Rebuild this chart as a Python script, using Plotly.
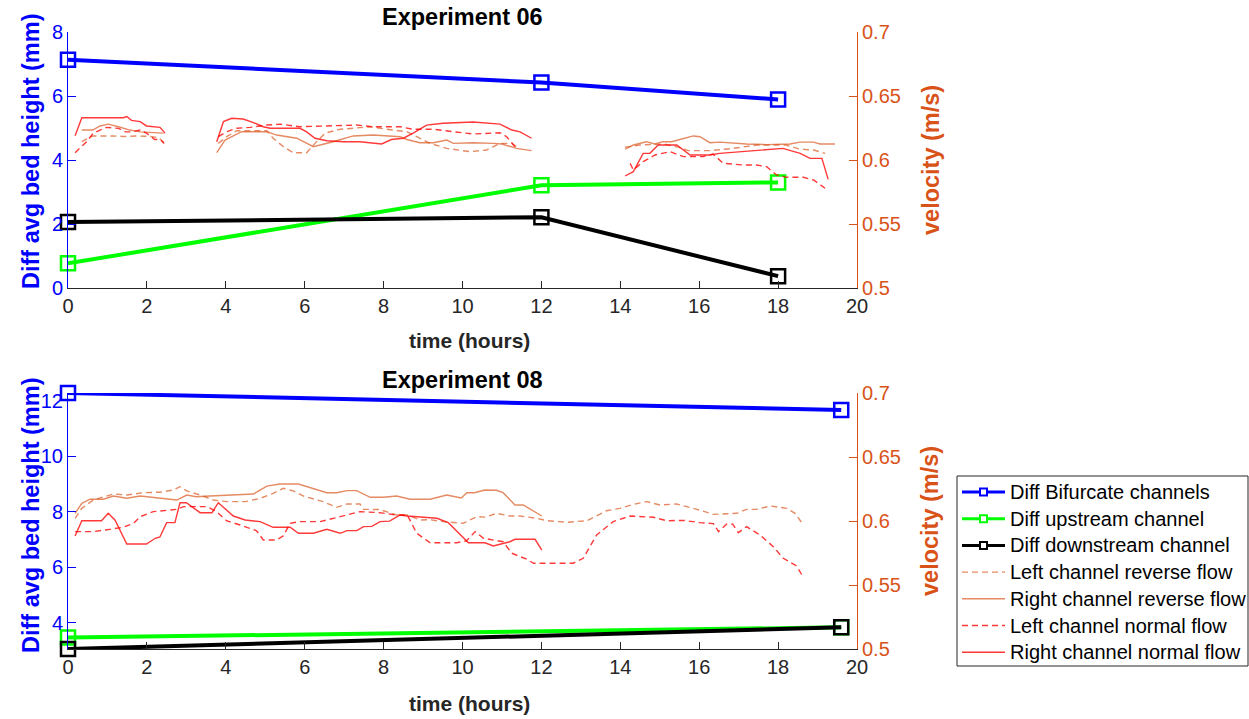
import plotly.graph_objects as go

# ---------------- Experiment 06 ----------------
e06_time = [0, 12, 18]
e06_bifurcate = [7.13, 6.42, 5.89]
e06_upstream = [0.77, 3.21, 3.30]
e06_downstream = [2.06, 2.21, 0.37]

e06_rn_h = [0.18, 0.35, 1.4, 1.49, 1.61, 1.83, 1.99, 2.33, 2.46, None,
            3.77, 3.94, 4.15, 4.44, 4.70, 4.95, 5.12, 5.88, 6.05, 6.26, 6.56, 6.98, 7.4, 7.74, 7.95, 8.2, 8.5, 8.75,
            9.09, 9.51, 10.27, 10.95, 11.25, 11.46, 11.75, None,
            14.12, 14.33, 14.58, 14.75, 14.96, 15.43, 15.77, 16.27, 16.52, 17.04, 17.88, 18.12, 18.56, 18.81, 19.11, 19.27]
e06_rn_v = [0.619, 0.633, 0.633, 0.634, 0.631, 0.630, 0.6266, 0.6255, 0.621, None,
            0.6143, 0.630, 0.6326, 0.632, 0.6292, 0.626, 0.6248, 0.6248, 0.622, 0.617, 0.615, 0.6143, 0.6143, 0.6135,
            0.6125, 0.616, 0.617, 0.621, 0.6273, 0.6287, 0.6297, 0.628, 0.6234, 0.622, 0.617, None,
            0.5875, 0.5909, 0.6052, 0.6052, 0.6117, 0.6117, 0.6039, 0.6039, 0.6052, 0.6065, 0.6084, 0.6091, 0.6052,
            0.6013, 0.6013, 0.5849]

e06_rr_h = [0.35, 0.63, 0.81, 1.02, 1.28, 1.57, 1.83, 2.42, None,
            3.77, 3.98, 4.19, 4.40, 5.04, 5.29, 5.80, 6.22, 6.72, 7.23, 7.74, 8.42, 8.59, 8.92, 9.26, 9.6, 9.77,
            10.27, 10.78, 11.0, 11.37, 11.75, None,
            14.12, 14.33, 14.66, 14.87, 15.08, 15.3, 15.51, 15.85, 16.02, 16.27, 16.52, 16.87, 17.2, 17.71, 18.3,
            18.56, 18.9, 19.06, 19.44]
e06_rr_v = [0.6234, 0.6234, 0.6266, 0.628, 0.626, 0.6234, 0.622, 0.621, None,
            0.6057, 0.6156, 0.6188, 0.6221, 0.6221, 0.6195, 0.617, 0.6104, 0.6143, 0.6188, 0.6195, 0.6182, 0.616,
            0.6135, 0.6135, 0.6156, 0.613, 0.6135, 0.613, 0.6125, 0.6091, 0.6073, None,
            0.6084, 0.6117, 0.6143, 0.6125, 0.6143, 0.6143, 0.616, 0.6188, 0.6182, 0.6135, 0.614, 0.6131, 0.6125,
            0.612, 0.6125, 0.614, 0.614, 0.6125, 0.6125]

e06_ln_h = [0.18, 0.47, 0.64, 0.98, 1.28, 1.45, 1.62, 1.83, 1.99, 2.2, 2.33, 2.44, None,
            3.81, 4.02, 4.28, 4.62, 5.04, 5.38, 5.88, 6.72, 7.32, 7.74, 8.42, 8.75, 9.26, 9.77, 10.27, 10.95, 11.12,
            11.33, None,
            14.25, 14.33, 14.58, 14.88, 15.26, 15.6, 16.1, 16.35, 16.61, 17.12, 17.45, 17.71, 17.96, 18.2, 18.64,
            18.9, 19.19]
e06_ln_v = [0.6057, 0.6143, 0.621, 0.6255, 0.6247, 0.622, 0.622, 0.6234, 0.621, 0.616, 0.616, 0.613, None,
            0.6182, 0.6221, 0.6248, 0.6255, 0.6273, 0.628, 0.626, 0.6265, 0.6273, 0.626, 0.626, 0.624, 0.624,
            0.6221, 0.6203, 0.6213, 0.6182, 0.6104, None,
            0.5974, 0.5922, 0.5987, 0.6039, 0.6065, 0.6026, 0.6026, 0.6047, 0.5974, 0.5961, 0.5961, 0.5948, 0.5883,
            0.5865, 0.5865, 0.5844, 0.5779]

e06_lr_h = [0.35, 0.63, 1.14, 1.40, 1.74, 2.08, 2.3, 2.42, None,
            3.81, 4.02, 4.28, 5.04, 5.2, 5.46, 5.71, 6.05, 6.26, 6.52, 6.90, 7.66, 8.08, 8.59, 8.84, 9.18, 9.60,
            10.19, 10.61, 10.95, 11.25, 11.37, None,
            14.12, 14.5, 15.1, 15.43, 15.72, 16.27, 16.87, 17.46, 18.2, 18.56, 18.9, 19.19]
e06_lr_v = [0.6143, 0.6188, 0.6188, 0.6184, 0.6188, 0.6184, 0.6174, 0.614, None,
            0.613, 0.6182, 0.6229, 0.6229, 0.617, 0.6104, 0.6057, 0.6057, 0.613, 0.621, 0.624, 0.626, 0.624, 0.6221,
            0.6182, 0.613, 0.6091, 0.6065, 0.6078, 0.613, 0.613, 0.6104, None,
            0.61, 0.6117, 0.6125, 0.6104, 0.6073, 0.6073, 0.6091, 0.6117, 0.6117, 0.6084, 0.6078, 0.6052]

# ---------------- Experiment 08 ----------------
e08_time = [0, 19.6]
e08_bifurcate = [12.28, 11.67]
e08_upstream = [3.47, 3.84]
e08_downstream = [3.06, 3.84]

e08_rr_h = [0.18, 0.35, 0.56, 0.9, 1.15, 1.49, 1.83, 2.33, 2.76, 3.01, 3.25, 3.6, 4.7, 5.04, 5.37, 5.84, 6.05,
            6.56, 6.81, 7.07, 7.32, 7.66, 8.0, 8.33, 8.67, 9.18, 9.6, 9.97, 10.11, 10.3, 10.57, 10.86, 11.03, 11.33,
            11.54, 12.01]
e08_rr_v = [0.606, 0.6138, 0.617, 0.617, 0.6195, 0.6178, 0.6195, 0.6178, 0.6164, 0.6203, 0.619, 0.6195, 0.6211,
            0.6273, 0.6289, 0.6289, 0.627, 0.6221, 0.6221, 0.6237, 0.6237, 0.6185, 0.6185, 0.6195, 0.617, 0.617,
            0.6203, 0.618, 0.6221, 0.6221, 0.6242, 0.624, 0.6221, 0.6125, 0.6125, 0.6039]

e08_rn_h = [0.18, 0.35, 0.85, 1.02, 1.19, 1.49, 1.99, 2.21, 2.33, 2.5, 2.71, 2.84, 3.0, 3.35, 3.65, 3.81, 4.19,
            4.49, 4.87, 5.2, 5.63, 5.84, 6.22, 6.56, 6.9, 7.07, 7.32, 7.49, 7.7, 7.91, 8.15, 8.42, 8.6, 9.35, 9.64,
            10.15, 10.57, 10.78, 11.2, 11.33, 11.84, 12.01]
e08_rn_v = [0.5883, 0.6002, 0.6002, 0.606, 0.6008, 0.582, 0.582, 0.5865, 0.5875, 0.5987, 0.5987, 0.6143, 0.6143,
            0.6065, 0.6065, 0.6143, 0.6039, 0.6008, 0.5995, 0.5951, 0.5951, 0.5904, 0.5904, 0.5935, 0.5904, 0.5925,
            0.5925, 0.5956, 0.5958, 0.5995, 0.5999, 0.6047, 0.6039, 0.6021, 0.5987, 0.583, 0.583, 0.5805, 0.5838,
            0.5857, 0.5857, 0.5773]

e08_ln_h = [0.18, 0.3, 0.64, 1.06, 1.4, 1.66, 1.83, 2.16, 2.76, 2.93, 3.52, 3.77, 4.02, 4.36, 4.78, 4.95, 5.29,
            5.46, 5.63, 5.88, 6.39, 6.9, 7.4, 7.9, 8.33, 8.6, 8.84, 9.18, 9.85, 10.1, 10.32, 10.53, 11.03, 11.25,
            11.63, 11.8, 12.81, 13.06, 13.4, 13.82, 14.25, 14.84, 15.18, 15.6, 16.02, 16.36, 16.49, 16.7, 16.85,
            16.99, 17.2, 17.54, 17.88, 18.13, 18.47, 18.62]
e08_ln_v = [0.5917, 0.5917, 0.5917, 0.5935, 0.5951, 0.5982, 0.6034, 0.6073, 0.6091, 0.6112, 0.6112, 0.6073,
            0.6002, 0.5969, 0.5924, 0.5852, 0.5852, 0.5885, 0.5982, 0.5995, 0.5995, 0.6034, 0.6073, 0.6065, 0.6047,
            0.6047, 0.5904, 0.583, 0.583, 0.5845, 0.5917, 0.5865, 0.5838, 0.5748, 0.5701, 0.567, 0.567, 0.5709,
            0.5891, 0.5995, 0.6039, 0.6029, 0.6002, 0.6005, 0.5987, 0.598, 0.5917, 0.5977, 0.5975, 0.5909, 0.5956,
            0.5891, 0.5799, 0.5709, 0.5648, 0.557]

e08_lr_h = [0.18, 0.35, 0.64, 1.15, 1.49, 1.91, 2.33, 2.67, 2.84, 3.01, 3.35, 3.68, 4.02, 4.5, 4.87, 5.2, 5.46,
            5.71, 5.97, 6.47, 6.81, 7.07, 7.4, 7.49, 7.9, 8.33, 8.6, 8.92, 9.18, 9.51, 10.02, 10.36, 10.57, 10.87,
            11.2, 11.46, 11.88, 12.14, 12.64, 13.15, 13.65, 13.99, 14.33, 14.67, 15.01, 15.43, 15.94, 16.36, 16.95,
            17.2, 17.45, 17.8, 18.22, 18.43, 18.6]
e08_lr_v = [0.6021, 0.6099, 0.6164, 0.6211, 0.6203, 0.6221, 0.6225, 0.6242, 0.6268, 0.6235, 0.6203, 0.6164,
            0.6151, 0.6151, 0.6177, 0.6216, 0.6255, 0.6235, 0.6195, 0.6151, 0.6107, 0.6133, 0.6133, 0.6091, 0.609,
            0.6047, 0.6047, 0.6008, 0.601, 0.5995, 0.5982, 0.6034, 0.603, 0.606, 0.6039, 0.6039, 0.6021, 0.6002,
            0.599, 0.6002, 0.608, 0.6099, 0.613, 0.6151, 0.6125, 0.6133, 0.6091, 0.6052, 0.606, 0.6091, 0.6091,
            0.6117, 0.6099, 0.606, 0.5987]

x_ticks = list(range(0, 21, 2))
v_ticks = [0.5, 0.55, 0.6, 0.65, 0.7]
v_labels = ["0.5", "0.55", "0.6", "0.65", "0.7"]
legend_names = ["Diff Bifurcate channels", "Diff upstream channel", "Diff downstream channel",
                "Left channel reverse flow", "Right channel reverse flow",
                "Left channel normal flow", "Right channel normal flow"]

FONT = "Liberation Sans, Arial, sans-serif"
BLUE = "#0000FF"
GREEN = "#00FF00"
BLACK = "#000000"
ORANGE_AX = "#D95319"
ORANGE = "rgba(217,83,25,0.68)"
RED = "rgba(255,0,0,0.78)"
DASH = "6px,4px"

fig = go.Figure()


def bed(x, y, color, xa, ya):
    fig.add_trace(go.Scatter(x=x, y=y, mode="lines+markers", xaxis=xa, yaxis=ya, showlegend=False,
                             cliponaxis=False,
                             line=dict(color=color, width=4),
                             marker=dict(symbol="square-open", size=14, color=color, line=dict(width=2.5, color=color))))


def vel(x, y, color, dashed, xa, ya):
    fig.add_trace(go.Scatter(x=x, y=y, mode="lines", xaxis=xa, yaxis=ya, showlegend=False, connectgaps=False,
                             line=dict(color=color, width=1.4, dash=DASH if dashed else "solid")))


# top
bed(e06_time, e06_bifurcate, BLUE, "x", "y")
bed(e06_time, e06_upstream, GREEN, "x", "y")
bed(e06_time, e06_downstream, BLACK, "x", "y")
vel(e06_lr_h, e06_lr_v, ORANGE, True, "x", "y2")
vel(e06_rr_h, e06_rr_v, ORANGE, False, "x", "y2")
vel(e06_ln_h, e06_ln_v, RED, True, "x", "y2")
vel(e06_rn_h, e06_rn_v, RED, False, "x", "y2")
# bottom
bed(e08_time, e08_bifurcate, BLUE, "x2", "y3")
bed(e08_time, e08_upstream, GREEN, "x2", "y3")
bed(e08_time, e08_downstream, BLACK, "x2", "y3")
vel(e08_lr_h, e08_lr_v, ORANGE, True, "x2", "y4")
vel(e08_rr_h, e08_rr_v, ORANGE, False, "x2", "y4")
vel(e08_ln_h, e08_ln_v, RED, True, "x2", "y4")
vel(e08_rn_h, e08_rn_v, RED, False, "x2", "y4")

H_TOP, H_BOT = 32, 70
PH = 719 - H_TOP - H_BOT
PW = 789
top_dom = [(649 - 288) / PH, 1.0]
bot_dom = [0.0, 256 / PH]


def py2p(py):
    return (649 - py) / PH


def px2p(px):
    return (px - 68) / PW


xcommon = dict(range=[0, 20], tickvals=x_ticks, ticks="inside", ticklen=7, tickcolor="#262626",
               showline=True, linecolor="#262626", linewidth=1, showgrid=False, zeroline=False,
               tickfont=dict(family=FONT, size=20, color="#262626"), domain=[0, 1])
yleft = dict(ticks="inside", ticklen=8, tickcolor=BLUE, showline=True, linecolor=BLUE, linewidth=1,
             showgrid=False, zeroline=False, tickfont=dict(family=FONT, size=20, color=BLUE))
yright = dict(side="right", range=[0.5, 0.7], tickvals=v_ticks, ticktext=v_labels, ticks="inside", ticklen=8,
              tickcolor=ORANGE_AX, showline=True, linecolor=ORANGE_AX, linewidth=1, showgrid=False,
              zeroline=False, tickfont=dict(family=FONT, size=20, color=ORANGE_AX))

# ---- manual legend (box, samples, labels) ----
leg_styles = [(BLUE, True, False), (GREEN, True, False), (BLACK, True, False),
              (ORANGE, False, True), (ORANGE, False, False), (RED, False, True), (RED, False, False)]
LEG_L, LEG_R, LEG_T, LEG_B = 957, 1248, 476, 666
shapes = [dict(type="rect", xref="paper", yref="paper", x0=px2p(LEG_L), x1=px2p(LEG_R),
               y0=py2p(LEG_B), y1=py2p(LEG_T), line=dict(color="#262626", width=1), fillcolor="white")]
ann = []
for i, (name, (c, mk, dashed)) in enumerate(zip(legend_names, leg_styles)):
    yc = 492 + i * 26.7
    shapes.append(dict(type="line", xref="paper", yref="paper", x0=px2p(962), x1=px2p(1005),
                       y0=py2p(yc), y1=py2p(yc),
                       line=dict(color=c, width=3 if mk else 1.4, dash=DASH if dashed else "solid")))
    if mk:
        shapes.append(dict(type="rect", xref="paper", yref="paper", x0=px2p(980), x1=px2p(987),
                           y0=py2p(yc + 3.5), y1=py2p(yc - 3.5), fillcolor="white",
                           line=dict(color=c, width=2)))
    ann.append(dict(text=name, x=px2p(1008), y=py2p(yc), xanchor="left", yanchor="middle",
                    font=dict(size=20, color="#000000")))

ann += [
    dict(text="<b>Experiment 06</b>", x=0.5, y=py2p(17), font=dict(size=23.5, color="#000000")),
    dict(text="<b>Experiment 08</b>", x=0.5, y=py2p(380), font=dict(size=23.5, color="#000000")),
    dict(text="<b>time (hours)</b>", x=px2p(469), y=py2p(340), font=dict(size=21, color="#262626")),
    dict(text="<b>time (hours)</b>", x=px2p(469), y=py2p(703), font=dict(size=21, color="#262626")),
    dict(text="<b>Diff avg bed height (mm)</b>", x=px2p(31), y=py2p(152), textangle=-90,
         font=dict(size=23.5, color=BLUE)),
    dict(text="<b>Diff avg bed height (mm)</b>", x=px2p(31), y=py2p(516), textangle=-90,
         font=dict(size=23.5, color=BLUE)),
    dict(text="<b>velocity (m/s)</b>", x=px2p(931), y=py2p(160), textangle=-90,
         font=dict(size=23.5, color=ORANGE_AX)),
    dict(text="<b>velocity (m/s)</b>", x=px2p(930), y=py2p(521), textangle=-90,
         font=dict(size=23.5, color=ORANGE_AX)),
]
for a in ann:
    a.setdefault("xanchor", "center")
    a.setdefault("yanchor", "middle")
    a.update(xref="paper", yref="paper", showarrow=False)
    a["font"]["family"] = FONT

fig.update_layout(
    width=1249, height=719,
    margin=dict(l=68, r=1249 - 857, t=H_TOP, b=H_BOT, autoexpand=False),
    paper_bgcolor="white", plot_bgcolor="white",
    font=dict(family=FONT, size=20, color="#262626"),
    showlegend=False,
    xaxis=dict(anchor="y", **xcommon),
    xaxis2=dict(anchor="y3", **xcommon),
    yaxis=dict(domain=top_dom, anchor="x", range=[0, 8], tickvals=[0, 2, 4, 6, 8], **yleft),
    yaxis2=dict(overlaying="y", anchor="x", **yright),
    yaxis3=dict(domain=bot_dom, anchor="x2", range=[3.06, 12.28], tickvals=[4, 6, 8, 10, 12], **yleft),
    yaxis4=dict(overlaying="y3", anchor="x2", **yright),
    shapes=shapes,
    annotations=ann,
)

fig.write_html("out.html")
